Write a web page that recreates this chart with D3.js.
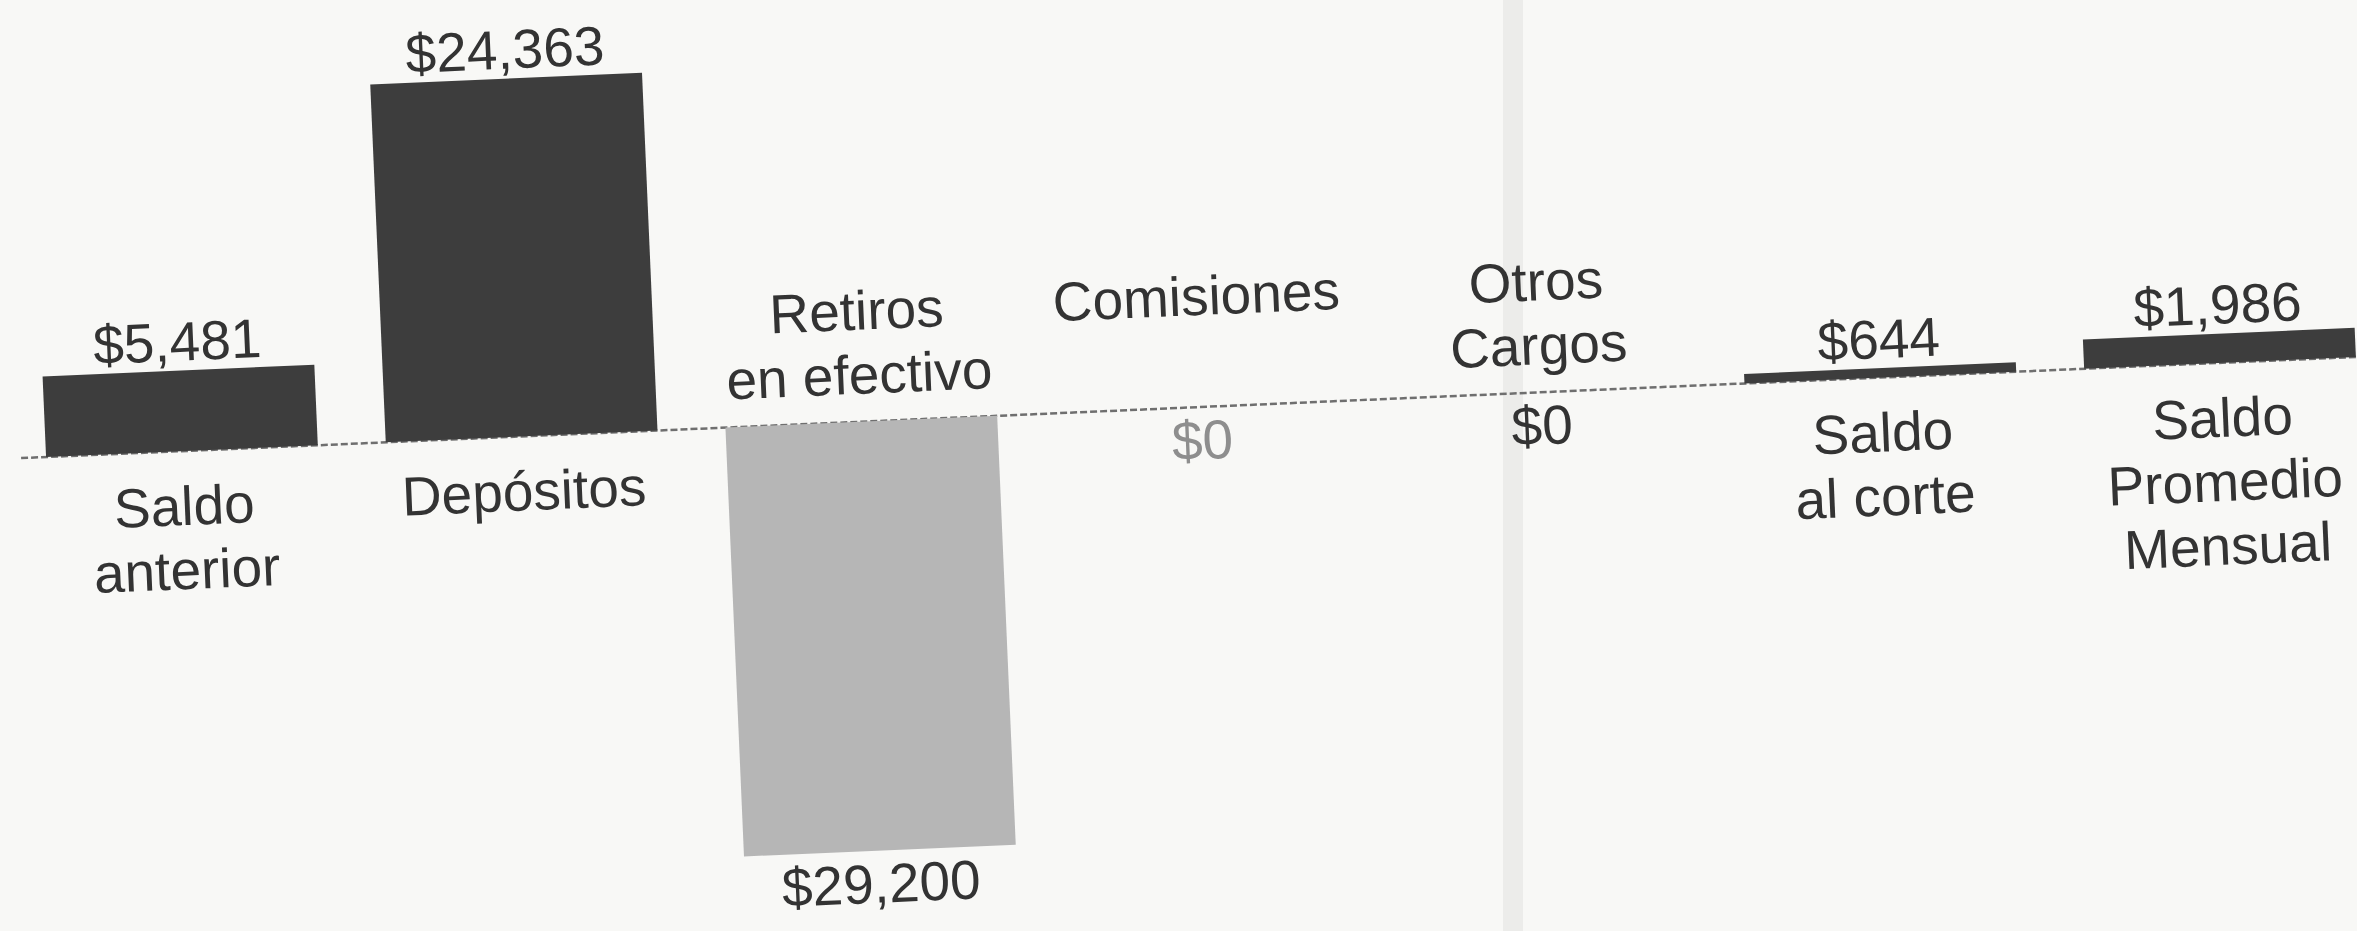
<!DOCTYPE html>
<html>
<head>
<meta charset="utf-8">
<script src="https://cdn.jsdelivr.net/npm/d3@7"></script>
<style>
  html, body { margin: 0; padding: 0; background: #f7f7f5; }
  svg { display: block; }
</style>
</head>
<body>
<div id="chart"></div>
<script>
// ---- data ----
const categories = ["Saldo anterior", "Depósitos", "Retiros en efectivo", "Comisiones", "Otros Cargos", "Saldo al corte", "Saldo Promedio Mensual"];
const categoryLines = [["Saldo", "anterior"], ["Depósitos"], ["Retiros", "en efectivo"], ["Comisiones"], ["Otros", "Cargos"], ["Saldo", "al corte"], ["Saldo", "Promedio", "Mensual"]];
const values = [5481, 24363, -29200, 0, 0, 644, 1986];

// ---- layout / style ----
const W = 2357, H = 931;
const pivotX = 1178, pivotY = 408, tilt = -2.48;
const darkFill = "#3d3d3d", lightFill = "#b6b6b6", textColor = "#333333";
const fadedIdx = 3; // the faint "$0" under Comisiones

const svg = d3.select("#chart").append("svg").attr("width", W).attr("height", H);
svg.append("rect").attr("width", W).attr("height", H).attr("fill", "#f8f8f6");
// scan fold strip
svg.append("rect").attr("x", 1503).attr("y", 0).attr("width", 20).attr("height", H).attr("fill", "#ececea");

const g = svg.append("g").attr("transform", `rotate(${tilt}, ${pivotX}, ${pivotY})`);

const x = d3.scaleBand().domain(categories).range([11, 2391]).paddingInner(0.2).paddingOuter(0.1);
const y = d3.scaleLinear().domain([-30000, 30000]).range([pivotY + 441, pivotY - 441]);
const fmt = d3.format("$,.0f");

// baseline (dotted)
g.append("line")
  .attr("x1", 20).attr("x2", 2420)
  .attr("y1", y(0)).attr("y2", y(0))
  .attr("stroke", "#6f6f6f").attr("stroke-width", 2.5)
  .attr("stroke-dasharray", "7,3");

const data = categories.map((c, i) => ({ c, v: values[i], lines: categoryLines[i], i }));

// bars
g.selectAll("rect.bar").data(data.filter(d => d.v !== 0)).join("rect")
  .attr("class", "bar")
  .attr("x", d => x(d.c))
  .attr("width", x.bandwidth())
  .attr("y", d => y(Math.max(0, d.v)))
  .attr("height", d => Math.abs(y(d.v) - y(0)))
  .attr("fill", d => d.v < 0 ? lightFill : darkFill);

const font = "'Liberation Sans', Arial, sans-serif";

// value labels
g.selectAll("text.val").data(data).join("text")
  .attr("class", "val")
  .attr("x", d => x(d.c) + x.bandwidth() / 2)
  .attr("y", d => d.v > 0 ? y(d.v) - 10 : y(Math.min(0, d.v)) + 52)
  .attr("text-anchor", "middle")
  .attr("font-family", font)
  .attr("font-size", 55)
  .attr("fill", d => d.i === fadedIdx ? "#8e8e8e" : textColor)
  .text(d => fmt(Math.abs(d.v)));

// category labels
const lineH = 64;
data.forEach(d => {
  const cx = x(d.c) + x.bandwidth() / 2;
  const startY = d.v > 0 ? y(0) + 74 : y(0) - 92;
  const t = g.append("text")
    .attr("text-anchor", "middle")
    .attr("font-family", font)
    .attr("font-size", 55)
    .attr("fill", textColor);
  d.lines.forEach((ln, k) => {
    t.append("tspan").attr("x", cx).attr("y", startY + k * lineH).text(ln);
  });
});
</script>
</body>
</html>
